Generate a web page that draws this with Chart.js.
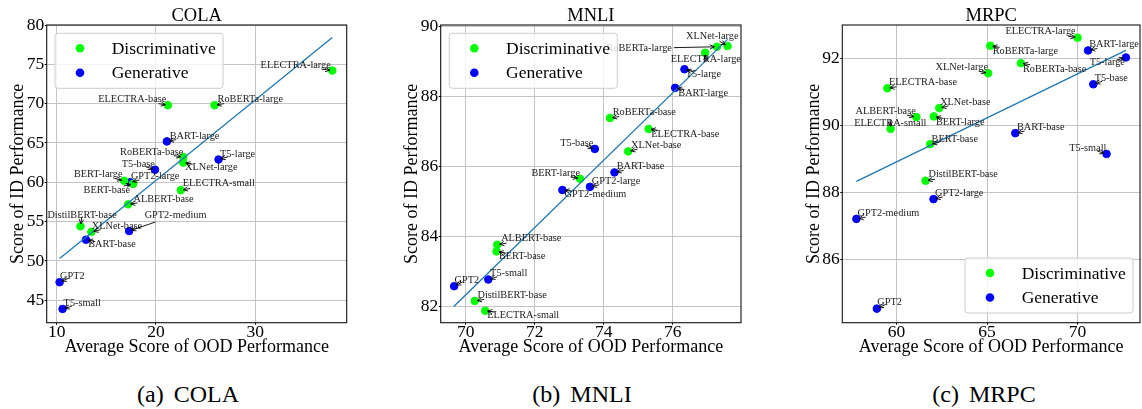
<!DOCTYPE html>
<html>
<head>
<meta charset="utf-8">
<script src="https://cdn.jsdelivr.net/npm/chart.js"></script>
<title>ID vs OOD performance</title>
<style>
	body {
		margin: 0;
		width: 1142px;
		height: 409px;
		overflow: hidden;
		position: relative;
		background: #fff;
		font-family: "Liberation Serif", "DejaVu Serif", serif;
	}
	canvas { position: absolute; top: 0; }
	.caption {
		position: absolute;
		top: 382px;
		font-size: 24px;
		line-height: 24px;
		white-space: pre;
		transform: translateX(-50%);
		word-spacing: 4px;
		color: #000;
	}
</style>
</head>
<body>

<canvas id="cola" width="352" height="360" style="left:0px"></canvas>
<canvas id="mnli" width="354" height="360" style="left:393px"></canvas>
<canvas id="mrpc" width="350" height="360" style="left:795px"></canvas>

<div class="caption" style="left:188px">(a) COLA</div>
<div class="caption" style="left:582px">(b) MNLI</div>
<div class="caption" style="left:984px">(c) MRPC</div>

<script>
// models, in the same order for every task
const models = ['BERT-base', 'BERT-large', 'RoBERTa-base', 'RoBERTa-large', 'ALBERT-base', 'DistilBERT-base',
	'XLNet-base', 'XLNet-large', 'ELECTRA-small', 'ELECTRA-base', 'ELECTRA-large',
	'GPT2', 'GPT2-medium', 'GPT2-large', 'BART-base', 'BART-large', 'T5-small', 'T5-base', 'T5-large'];
const kinds = ['D', 'D', 'D', 'D', 'D', 'D', 'D', 'D', 'D', 'D', 'D', 'G', 'G', 'G', 'G', 'G', 'G', 'G', 'G'];
const kindNames = ['Discriminative', 'Generative'];

// average OOD score (x) and ID score (y)
const colaOOD = [17.7, 16.8, 22.75, 25.9, 17.2, 12.4, 13.5, 22.75, 22.5, 21.2, 37.75, 10.3, 17.3, 17.4, 12.95, 21.1, 10.6, 19.9, 26.3];
const colaID = [59.8, 60.2, 63.2, 69.8, 57.2, 54.4, 53.7, 62.5, 59.0, 69.8, 74.2, 47.3, 53.8, 60.0, 52.7, 65.2, 43.9, 61.6, 62.9];
const mnliOOD = [70.89, 73.31, 74.18, 77.28, 70.91, 70.26, 74.71, 77.59, 70.56, 75.30, 76.94, 69.66, 72.80, 73.60, 74.31, 76.07, 70.65, 73.74, 76.34];
const mnliID = [83.58, 85.65, 87.38, 89.41, 83.77, 82.17, 86.43, 89.43, 81.89, 87.07, 89.24, 82.59, 85.33, 85.42, 85.83, 88.24, 82.78, 86.50, 88.77];
const mrpcOOD = [61.85, 62.06, 66.87, 65.18, 61.09, 61.6, 62.36, 65.06, 59.67, 59.49, 70.0, 58.91, 57.78, 62.04, 66.56, 70.58, 71.6, 70.87, 72.67];
const mrpcID = [89.43, 90.26, 91.85, 92.37, 90.24, 88.34, 90.51, 91.55, 89.89, 91.10, 92.61, 84.52, 87.2, 87.79, 89.76, 92.23, 89.14, 91.22, 92.02];

// fitted line ends
const colaFitX = [10.3, 37.75], colaFitY = [50.3, 78.4];
const mnliFitX = [69.65, 77.59], mnliFitY = [82.01, 89.62];
const mrpcFitX = [57.78, 72.67], mrpcFitY = [88.32, 92.23];

// tick labels
const colaXTicks = [10, 20, 30], colaYTicks = [45, 50, 55, 60, 65, 70, 75, 80];
const mnliXTicks = [70, 72, 74, 76], mnliYTicks = [82, 84, 86, 88, 90];
const mrpcXTicks = [60, 65, 70], mrpcYTicks = [86, 88, 90, 92];

// where each label text sits, offset in px from its point (layout only)
const colaLabelPos = [[-26.3, 6], [-26, -6.3], [-31.6, -5], [35.7, -6], [35.4, -5.3], [1.6, -11.3], [25.6, -6], [28, 5],
	[38, -6.7], [-35.6, -6], [-36.6, -5.7], [12.7, -5.6], [46.4, -16], [25, -6.3], [26, 5], [27.6, -5.3], [19.6, -5.7], [-16.7, -5.3], [19, -5.3]];
const mnliLabelPos = [[25.6, 5], [-24.3, -5.4], [34.3, -5.6], [-77.7, 1.6], [34, -6], [37.3, -6], [28, -6.4], [-15.3, -9.3],
	[38, 5], [36.6, 5.4], [0.7, 6.6], [12.7, -6.4], [33, 4.3], [26, -5.7], [26, -6], [28, 5], [20.4, -6.3], [-18, -6], [19, 5.3]];
const mrpcLabelPos = [[24.7, -5.3], [26.3, 5.6], [33.7, 5.7], [35, 5.7], [-30.7, -6.3], [37.7, -6], [26, -6], [-26.4, -5.6],
	[-0.3, -5.7], [35.6, -6], [-37, -6], [12.7, -6], [32, -6], [25.7, -6], [25.4, -5.6], [26, -5.7], [-18.7, -5.7], [18, -6], [-18.6, 5]];

const GREEN = '#00ff00', BLUE = '#0000ff', FIT = '#1f77b4';
const SERIF = '"Liberation Serif", "DejaVu Serif", serif';

const panels = [
	{canvas: 'cola', title: 'COLA', ood: colaOOD, id: colaID, fitX: colaFitX, fitY: colaFitY,
	 xMin: 9.0, xMax: 39.2, yMin: 42.15, yMax: 80, xTicks: colaXTicks, yTicks: colaYTicks,
	 yWidth: 46.7, rightPad: 5.3, labelPos: colaLabelPos, legend: {x: 8.3, y: 8.3}},
	{canvas: 'mnli', title: 'MNLI', ood: mnliOOD, id: mnliID, fitX: mnliFitX, fitY: mnliFitY,
	 xMin: 69.27, xMax: 77.98, yMin: 81.55, yMax: 90.03, xTicks: mnliXTicks, yTicks: mnliYTicks,
	 yWidth: 47.7, rightPad: 6, labelPos: mnliLabelPos, legend: {x: 8.6, y: 8.3}},
	{canvas: 'mrpc', title: 'MRPC', ood: mrpcOOD, id: mrpcID, fitX: mrpcFitX, fitY: mrpcFitY,
	 xMin: 57.0, xMax: 73.45, yMin: 84.1, yMax: 92.99, xTicks: mrpcXTicks, yTicks: mrpcYTicks,
	 yWidth: 47.3, rightPad: 1.5, labelPos: mrpcLabelPos, legend: {x: 122.7, y: 233}}
];

// matplotlib style "->" arrow from the label box to the point
function drawArrow(ctx, tx, ty, w, px, py) {
	const hw = w / 2 + 2, hh = 7;
	const dx = px - tx, dy = py - ty, len = Math.hypot(dx, dy);
	const ux = dx / len, uy = dy / len;
	const t = Math.min(dx !== 0 ? hw / Math.abs(dx) : Infinity, dy !== 0 ? hh / Math.abs(dy) : Infinity);
	const ex = px - ux * 2.5, ey = py - uy * 2.5;
	let sx = tx + dx * t, sy = ty + dy * t;
	if (t >= 1 || Math.hypot(ex - sx, ey - sy) < 7) {
		sx = ex - ux * 7;
		sy = ey - uy * 7;
	}
	const ang = Math.atan2(uy, ux), hl = 5, ha = 0.45;
	ctx.beginPath();
	ctx.moveTo(sx, sy);
	ctx.lineTo(ex, ey);
	ctx.moveTo(ex - hl * Math.cos(ang - ha), ey - hl * Math.sin(ang - ha));
	ctx.lineTo(ex, ey);
	ctx.lineTo(ex - hl * Math.cos(ang + ha), ey - hl * Math.sin(ang + ha));
	ctx.stroke();
}

function makeOverlay(p) {
	return {
		id: 'overlay_' + p.canvas,
		afterDatasetsDraw(chart) {
			const ctx = chart.ctx, a = chart.chartArea;
			const xs = chart.scales.x, ys = chart.scales.y;
			ctx.save();

			// point labels
			ctx.font = '10.3px ' + SERIF;
			ctx.textAlign = 'center';
			ctx.textBaseline = 'middle';
			ctx.fillStyle = '#1a1a1a';
			ctx.strokeStyle = '#000';
			ctx.lineWidth = 0.9;
			models.forEach((name, i) => {
				const px = xs.getPixelForValue(p.ood[i]), py = ys.getPixelForValue(p.id[i]);
				const tx = px + p.labelPos[i][0], ty = py + p.labelPos[i][1];
				ctx.fillText(name, tx, ty);
				drawArrow(ctx, tx, ty, ctx.measureText(name).width, px, py);
			});

			// legend box
			const lx = a.left + p.legend.x, ly = a.top + p.legend.y;
			ctx.fillStyle = 'rgba(255,255,255,0.8)';
			ctx.strokeStyle = '#cccccc';
			ctx.lineWidth = 1;
			ctx.beginPath();
			if (ctx.roundRect) ctx.roundRect(lx, ly, 168, 55, 3); else ctx.rect(lx, ly, 168, 55);
			ctx.fill();
			ctx.stroke();
			ctx.font = '17.5px ' + SERIF;
			ctx.textAlign = 'left';
			chart.data.datasets.slice(1).forEach((ds, k) => {
				const cy = ly + 15 + k * 24.5;
				ctx.fillStyle = ds.backgroundColor;
				ctx.beginPath();
				ctx.arc(lx + 25, cy, 4.3, 0, Math.PI * 2);
				ctx.fill();
				ctx.fillStyle = '#000';
				ctx.fillText(ds.label, lx + 56.7, cy + 1);
			});

			// frame
			ctx.strokeStyle = '#111';
			ctx.lineWidth = 1.1;
			ctx.strokeRect(a.left, a.top, a.right - a.left, a.bottom - a.top);

			// title
			ctx.font = '18.5px ' + SERIF;
			ctx.textAlign = 'center';
			ctx.textBaseline = 'alphabetic';
			ctx.fillStyle = '#000';
			ctx.fillText(p.title, (a.left + a.right) / 2, a.top - 4);
			ctx.restore();
		}
	};
}

panels.forEach(p => {
	const pts = k => models.map((m, i) => ({x: p.ood[i], y: p.id[i], k: kinds[i]}))
		.filter(d => d.k === k).map(d => ({x: d.x, y: d.y}));

	new Chart(document.getElementById(p.canvas), {
		type: 'scatter',
		data: {
			datasets: [
				{type: 'line', label: 'fit', data: p.fitX.map((x, i) => ({x: x, y: p.fitY[i]})),
				 borderColor: FIT, borderWidth: 1.3, pointRadius: 0, fill: false, order: 0},
				{label: kindNames[0], data: pts('D'), backgroundColor: GREEN, borderColor: GREEN,
				 pointRadius: 3.8, borderWidth: 1, order: 1},
				{label: kindNames[1], data: pts('G'), backgroundColor: BLUE, borderColor: BLUE,
				 pointRadius: 3.8, borderWidth: 1, order: 1}
			]
		},
		options: {
			responsive: false,
			animation: false,
			layout: {padding: {top: 25, left: 0, right: p.rightPad, bottom: 0}},
			plugins: {legend: {display: false}, tooltip: {enabled: false}, title: {display: false}},
			scales: {
				x: {
					type: 'linear', min: p.xMin, max: p.xMax,
					afterBuildTicks: s => { s.ticks = p.xTicks.map(v => ({value: v})); },
					afterFit: s => { s.height = 37.3; },
					grid: {color: '#c4c4c4', lineWidth: 1, drawTicks: true, tickLength: 2, tickColor: '#000'},
					border: {display: false},
					ticks: {color: '#000', font: {family: SERIF, size: 17.5, lineHeight: 1}, padding: -1.5, maxRotation: 0, autoSkip: false},
					title: {display: true, text: 'Average Score of OOD Performance', color: '#000',
						font: {family: SERIF, size: 18}, padding: {top: 0, bottom: 1.7}}
				},
				y: {
					type: 'linear', min: p.yMin, max: p.yMax,
					afterBuildTicks: s => { s.ticks = p.yTicks.map(v => ({value: v})); },
					afterFit: s => { s.width = p.yWidth; },
					grid: {color: '#c4c4c4', lineWidth: 1, drawTicks: true, tickLength: 2, tickColor: '#000'},
					border: {display: false},
					ticks: {color: '#000', font: {family: SERIF, size: 17.5, lineHeight: 1}, padding: 0.5, autoSkip: false},
					title: {display: true, text: 'Score of ID Performance', color: '#000',
						font: {family: SERIF, size: 18}, padding: {top: p.yWidth - 28.5 - 10.8, bottom: 0}}
				}
			}
		},
		plugins: [makeOverlay(p)]
	});
});
</script>
</body>
</html>
